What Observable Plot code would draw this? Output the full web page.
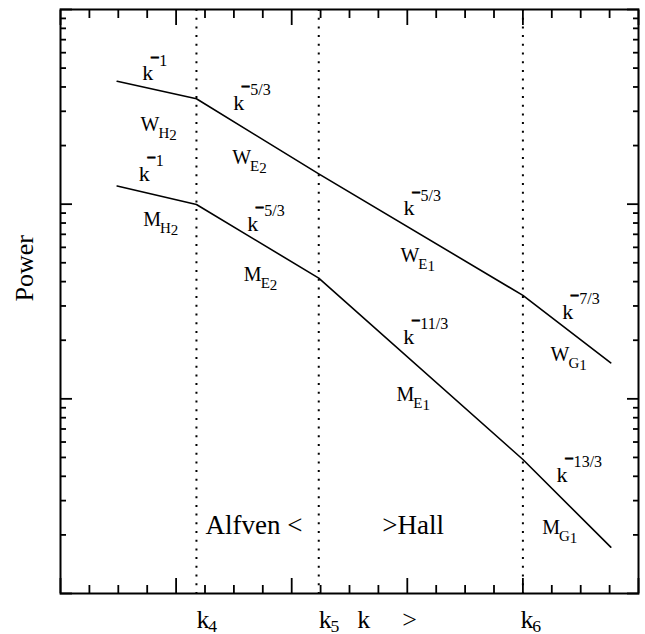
<!DOCTYPE html>
<html>
<head>
<meta charset="utf-8">
<script src="https://cdn.jsdelivr.net/npm/d3@7"></script>
<script src="https://cdn.jsdelivr.net/npm/@observablehq/plot@0.6"></script>
<style>
  html, body { margin: 0; padding: 0; background: #fff; }
</style>
</head>
<body>
<div id="chart"></div>
<script>
// ---- data (x = position along the log-k axis, 5 decades shown; y = power, log scale) ----
const kPoints = [0.49, 1.176, 2.234, 4.0, 4.76];
const wPower  = [428, 348, 143, 34.0, 15.3];
const mPower  = [124, 99.6, 41.7, 4.88, 1.73];

const kBreaks = [1.176, 2.234, 4.0];

// x-axis ticks (unlabelled): majors and quarter minors
const xMajorTicks = [0, 1, 2, 3, 4, 5];
const xMinorTicks = [0.25, 0.5, 0.75, 1.25, 1.5, 1.75, 2.25, 2.5, 2.75, 3.25, 3.5, 3.75, 4.25, 4.5, 4.75];
// y-axis ticks (unlabelled): decades and minor log ticks
const yMajorTicks = [1, 10, 100, 1000];
const yMinorTicks = [2, 3, 4, 5, 6, 7, 8, 9, 20, 30, 40, 50, 60, 70, 80, 90, 200, 300, 400, 500, 600, 700, 800, 900];

// in-plot annotations
const slopeText = ["k^{−1}", "k^{−1}", "k^{−5/3}", "k^{−5/3}", "k^{−5/3}", "k^{−11/3}", "k^{−7/3}", "k^{−13/3}"];
const slopeK    = [0.707, 0.677, 1.494, 1.615, 2.967, 2.965, 4.340, 4.291];
const slopeP    = [432, 131, 303, 73.2, 87.5, 19.2, 25.8, 3.73];

const nameText = ["W_{H_2}", "M_{H_2}", "W_{E_2}", "M_{E_2}", "W_{E_1}", "M_{E_1}", "W_{G_1}", "M_{G_1}"];
const nameK    = [0.692, 0.715, 1.485, 1.586, 2.941, 2.907, 4.239, 4.167];
const nameP    = [239, 77.1, 161, 40.5, 50.3, 9.8, 15.7, 2.03];

const regimeText = ["Alfven <", ">Hall"];
const regimeK    = [1.254, 2.783];
const regimeP    = [2.03, 2.03];

// labels under the x axis
const axisText = ["k_{4}", "k_{5}", "k", ">", "k_{6}"];
const axisK    = [1.176, 2.234, 2.567, 2.956, 3.98];

const yTitle = "Power";

// ---- build ----
const serif = '"Liberation Serif", "Times New Roman", Times, serif';
const rows = (xs, ys) => xs.map((x, i) => ({x, y: ys[i]}));
const lbl = (ts, xs, ys) => ts.map((t, i) => ({t, x: xs[i], y: ys ? ys[i] : null}));

const tickStyle = {stroke: "black", strokeWidth: 1.8, tickFormat: () => "", label: null};

const plot = Plot.plot({
  width: 645,
  height: 634,
  marginLeft: 60,
  marginRight: 7,
  marginTop: 9,
  marginBottom: 41,
  style: {fontFamily: serif, background: "white", color: "black", overflow: "visible"},
  x: {type: "linear", domain: [0, 5]},
  y: {type: "log", domain: [1, 1000]},
  marks: [
    // ticks pointing inward on all four sides
    Plot.axisX(xMajorTicks, {...tickStyle, anchor: "bottom", tickSize: 15, dy: -15}),
    Plot.axisX(xMinorTicks, {...tickStyle, anchor: "bottom", tickSize: 8, dy: -8}),
    Plot.axisX(xMajorTicks, {...tickStyle, anchor: "top", tickSize: 15, dy: 15}),
    Plot.axisX(xMinorTicks, {...tickStyle, anchor: "top", tickSize: 8, dy: 8}),
    Plot.axisY(yMajorTicks, {...tickStyle, anchor: "left", tickSize: 12, dx: 12}),
    Plot.axisY(yMinorTicks, {...tickStyle, anchor: "left", tickSize: 6, dx: 6}),
    Plot.axisY(yMajorTicks, {...tickStyle, anchor: "right", tickSize: 12, dx: -12}),
    Plot.axisY(yMinorTicks, {...tickStyle, anchor: "right", tickSize: 6, dx: -6}),
    Plot.frame({stroke: "black", strokeWidth: 2}),
    Plot.ruleX(kBreaks, {stroke: "black", strokeWidth: 2, strokeDasharray: "2,6.7"}),
    Plot.line(rows(kPoints, wPower), {x: "x", y: "y", stroke: "black", strokeWidth: 1.6}),
    Plot.line(rows(kPoints, mPower), {x: "x", y: "y", stroke: "black", strokeWidth: 1.6}),
    Plot.text(lbl(slopeText, slopeK, slopeP), {x: "x", y: "y", text: "t", textAnchor: "start", lineAnchor: "bottom", fontSize: 22, fill: "black"}),
    Plot.text(lbl(nameText, nameK, nameP), {x: "x", y: "y", text: "t", textAnchor: "start", lineAnchor: "bottom", fontSize: 20, fill: "black"}),
    Plot.text(lbl(regimeText, regimeK, regimeP), {x: "x", y: "y", text: "t", textAnchor: "start", lineAnchor: "bottom", fontSize: 27, fill: "black"}),
    Plot.text(lbl(axisText, axisK), {x: "x", text: "t", frameAnchor: "bottom", dy: 34, textAnchor: "start", lineAnchor: "bottom", fontSize: 26, fill: "black"}),
    Plot.text([yTitle], {frameAnchor: "left", rotate: -90, dx: -36, fontSize: 26, fill: "black"})
  ]
});

document.getElementById("chart").append(plot);

// turn "base^{sup}" / "base_{sub}" into tspans
d3.select(plot).selectAll("text").each(function () {
  const s = this.textContent;
  const m = /^(.*?)([\^_])\{(.*)\}$/.exec(s);
  if (!m) return;
  const [, base, kind, script] = m;
  const fs = parseFloat(getComputedStyle(this).fontSize) || 20;
  const t = d3.select(this).text(null);
  t.append("tspan").text(base);
  if (kind === "^") {
    const sfs = fs * 0.73;
    const lift = -0.68 * fs;
    const dx = -0.14 * fs;
    if (script.startsWith("−")) {
      t.append("tspan").attr("font-size", sfs).attr("font-weight", "bold")
        .attr("stroke", "black").attr("stroke-width", 0.9)
        .attr("dx", dx).attr("dy", lift - 3).text("−");
      t.append("tspan").attr("font-size", sfs).attr("dy", 3).text(script.slice(1));
    } else {
      t.append("tspan").attr("font-size", sfs).attr("dx", dx).attr("dy", lift).text(script);
    }
  } else {
    const parts = script.split("_");
    const big = fs >= 24;
    const sfs = big ? fs * 0.68 : fs * 0.75;
    t.append("tspan").attr("font-size", sfs).attr("dx", -0.05 * fs)
      .attr("dy", big ? 4 : 0.35 * fs).text(parts[0]);
    if (parts[1]) t.append("tspan").attr("font-size", sfs).attr("dy", 2).text(parts[1]);
  }
});
</script>
</body>
</html>
